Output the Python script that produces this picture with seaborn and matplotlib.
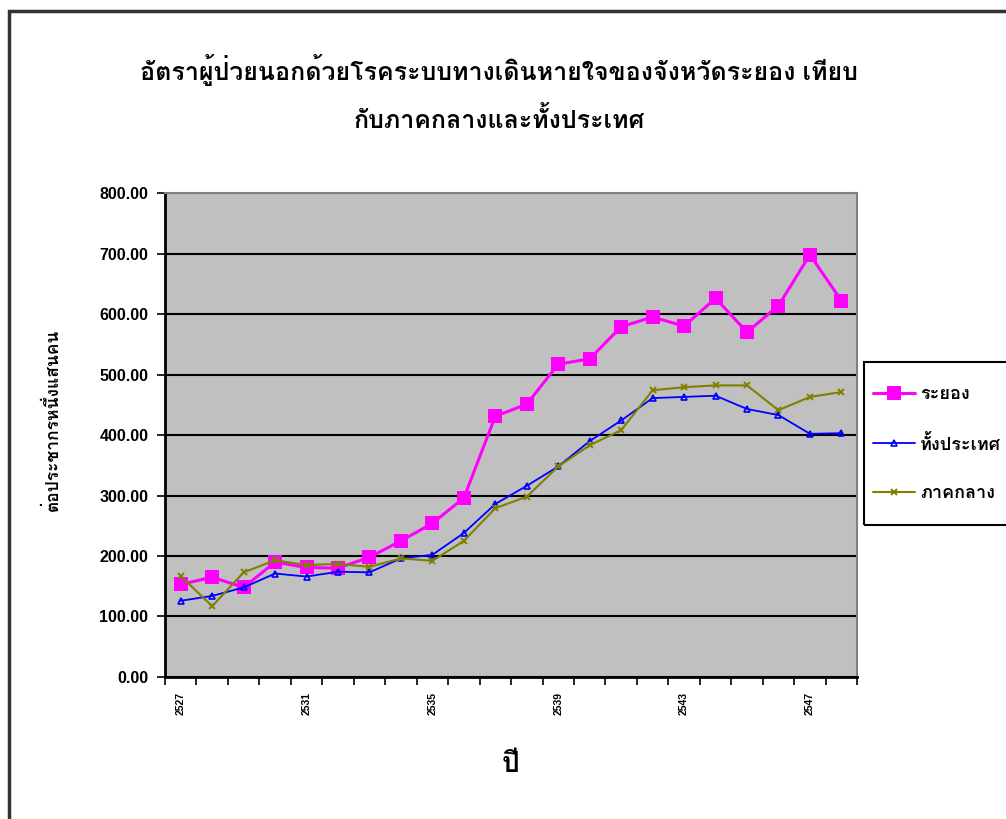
import pandas as pd
import matplotlib.pyplot as plt
import seaborn as sns
import numpy as np
from matplotlib import font_manager
from matplotlib.ft2font import FT2Font
from matplotlib.patches import Rectangle

# Data
years = list(range(2527, 2549))
rayong = [153, 165, 148, 190, 181, 180, 198, 225, 254, 296, 431, 451, 517, 526,
          579, 595, 580, 626, 570, 614, 698, 622]
country = [126, 134, 148, 171, 166, 174, 173, 196, 202, 238, 286, 316, 348, 390,
           424, 461, 463, 465, 443, 433, 402, 403]
central = [167, 117, 173, 193, 185, 187, 182, 196, 192, 225, 279, 298, 348, 383,
           408, 474, 479, 482, 482, 441, 463, 471]
labels = ['ระยอง', 'ทั้งประเทศ', 'ภาคกลาง']
year_labels = [2527, 2531, 2535, 2539, 2543, 2547]


# find a font that has Thai glyphs
def find_thai():
    for f in font_manager.fontManager.ttflist:
        try:
            if 0x0E01 in FT2Font(f.fname).get_charmap():
                return f.name
        except Exception:
            pass
    return 'DejaVu Sans'


thai = find_thai()
sns.set_style('white')
plt.rcParams['font.family'] = ['Liberation Sans', thai, 'DejaVu Sans']
plt.rcParams['text.color'] = 'black'
plt.rcParams['xtick.color'] = 'black'
plt.rcParams['ytick.color'] = 'black'

df = pd.DataFrame({'year': years, 'rayong': rayong, 'country': country, 'central': central})

fig = plt.figure(figsize=(10.06, 8.19), dpi=100)
ax = fig.add_axes([0.164, 0.1734, 0.688, 0.5909])
ax.set_facecolor('#C0C0C0')

sns.lineplot(data=df, x='year', y='rayong', ax=ax, color='#FF00FF', lw=2.2,
             marker='s', markersize=10, markeredgewidth=0, label=labels[0])
sns.lineplot(data=df, x='year', y='country', ax=ax, color='#0000FF', lw=1.3,
             marker='^', markersize=5, mfc='none', mec='#0000FF', markeredgewidth=1.2,
             label=labels[1])
sns.lineplot(data=df, x='year', y='central', ax=ax, color='#808000', lw=1.5,
             marker='x', markersize=5, mec='#808000', markeredgewidth=1.4, label=labels[2])

ax.set_xlim(2526.5, 2548.5)
ax.set_ylim(0, 800)
ax.set_yticks(np.arange(0, 801, 100))
ax.set_yticklabels([f'{v:.2f}' for v in range(0, 801, 100)], fontsize=11.5, fontweight='bold')
ax.yaxis.grid(True, color='black', lw=1.5)
ax.set_axisbelow(True)
ax.tick_params(axis='y', length=6, width=1.2, left=True, direction='out', pad=6)

ax.set_xticks(year_labels)
ax.set_xticklabels([str(y) for y in year_labels], rotation=90, fontsize=7.5, fontweight='bold')
ax.set_xticks(np.arange(2526.5, 2549, 1), minor=True)
ax.tick_params(axis='x', which='major', length=0, pad=11)
ax.tick_params(axis='x', which='minor', length=6, width=1.2, bottom=True, direction='out')

ax.set_xlabel('')
ax.set_ylabel('')
for side in ['left', 'bottom']:
    ax.spines[side].set_color('black')
    ax.spines[side].set_linewidth(2)
for side in ['right', 'top']:
    ax.spines[side].set_color('#808080')
    ax.spines[side].set_linewidth(1.5)

ax.get_legend().remove()
handles, lbls = ax.get_legend_handles_labels()
leg = fig.legend(handles, lbls, loc='upper left', bbox_to_anchor=(873 / 1006, 1 - 386 / 819),
                 frameon=False, fontsize=13, labelspacing=1.75, handlelength=2.3,
                 borderpad=0, handletextpad=0.3, borderaxespad=0)
for t in leg.get_texts():
    t.set_fontweight('bold')
# legend frame (runs off the right edge like the original)
fig.add_artist(Rectangle((864 / 1006, 1 - 525 / 819), 0.5, 163 / 819, transform=fig.transFigure,
                         fill=False, lw=1.5, edgecolor='black'))

fig.text(0.496, 1 - 70 / 819, 'อัตราผู้ป่วยนอกด้วยโรคระบบทางเดินหายใจของจังหวัดระยอง เทียบ',
         ha='center', va='center', fontsize=18, fontweight='bold')
fig.text(0.496, 1 - 120 / 819, 'กับภาคกลางและทั้งประเทศ',
         ha='center', va='center', fontsize=18, fontweight='bold')
fig.text(52 / 1006, 1 - 420 / 819, 'ต่อประชากรหนึ่งแสนคน', rotation=90,
         ha='center', va='center', fontsize=12.5, fontweight='bold')
fig.text(510 / 1006, 1 - 765 / 819, 'ปี', ha='center', va='center', fontsize=20, fontweight='bold')

# outer chart frame
fig.add_artist(Rectangle((0.009, -0.1), 1.2, 1.0866, transform=fig.transFigure,
                         fill=False, lw=2.5, edgecolor='#333333'))

plt.savefig('out.png', dpi=100)
